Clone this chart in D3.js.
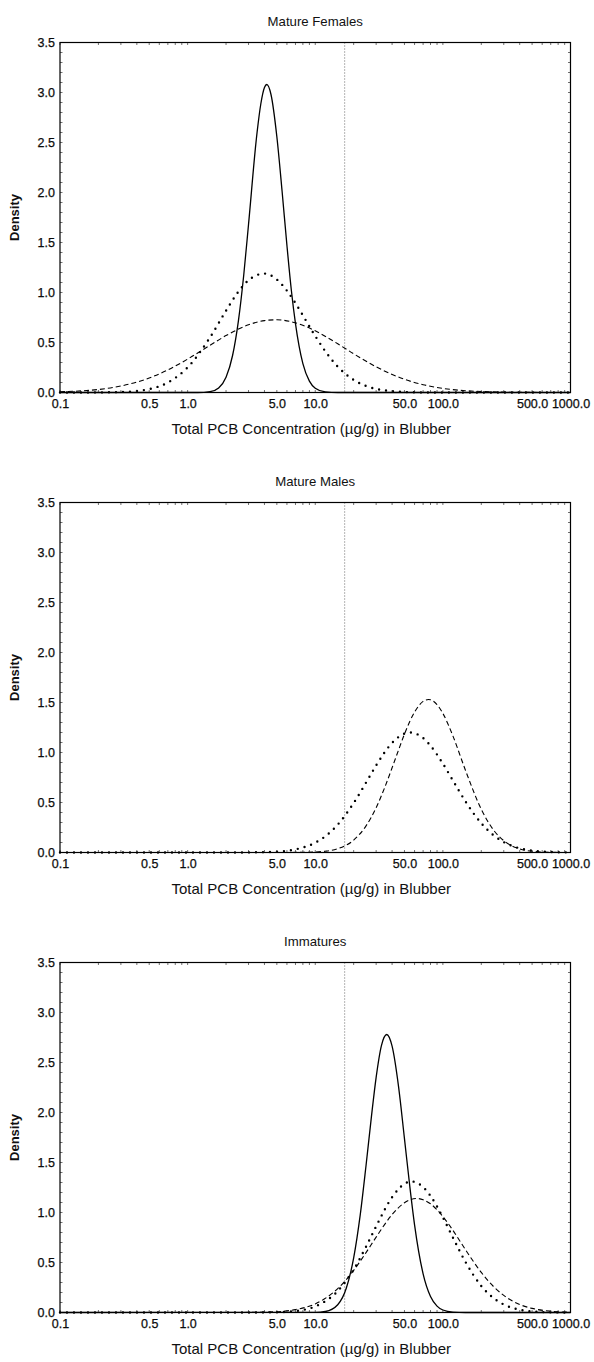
<!DOCTYPE html>
<html><head><meta charset="utf-8">
<script src="https://cdn.jsdelivr.net/npm/d3@7/dist/d3.min.js"></script>
<style>
html,body{margin:0;padding:0;background:#fff;}
text{font-family:"Liberation Sans",Arial,sans-serif;fill:#111;}
</style></head><body>
<svg id="chart" width="594" height="1362"></svg>
<script>
// ---- data ----
const panelTitles = ["Mature Females", "Mature Males", "Immatures"];
const xTickValues = [0.1, 0.5, 1, 5, 10, 50, 100, 500, 1000];
const xTickLabels = ["0.1", "0.5", "1.0", "5.0", "10.0", "50.0", "100.0", "500.0", "1000.0"];
const yTickValues = [0, 0.5, 1, 1.5, 2, 2.5, 3, 3.5];
const yTickLabels = ["0.0", "0.5", "1.0", "1.5", "2.0", "2.5", "3.0", "3.5"];
const thresholdValue = 17;
const xAxisTitle = "Total PCB Concentration (\u00b5g/g) in Blubber";
const yAxisTitle = "Density";

// [concentration, density]
const femalesSolid = [[0.1,0],[1.2,0],[1.5,0.009],[1.75,0.046],[2,0.152],[2.25,0.37],[2.5,0.717],[2.75,1.17],[3,1.68],[3.5,2.60],[3.75,2.89],[4,3.05],[4.17,3.08],[4.5,2.98],[5,2.56],[5.5,2.01],[6,1.47],[6.5,1.02],[7,0.689],[8,0.288],[9,0.114],[10,0.043],[12,0.006],[15,0],[1000,0]];
const femalesDotted = [[0.1,0],[0.2,0.001],[0.3,0.005],[0.4,0.015],[0.5,0.034],[0.7,0.100],[1,0.251],[1.5,0.552],[2,0.818],[2.5,1.008],[3,1.123],[4,1.189],[5,1.130],[6,1.018],[7,0.893],[8,0.771],[10,0.565],[12,0.412],[15,0.259],[20,0.126],[25,0.065],[30,0.036],[40,0.013],[50,0.005],[70,0.001],[100,0],[1000,0]];
const femalesDashed = [[0.1,0.007],[0.15,0.017],[0.2,0.030],[0.3,0.065],[0.5,0.145],[0.7,0.226],[1,0.334],[1.5,0.473],[2,0.569],[3,0.677],[4,0.719],[5,0.727],[7,0.697],[10,0.617],[15,0.487],[20,0.387],[30,0.257],[50,0.132],[70,0.078],[100,0.041],[150,0.018],[200,0.010],[300,0.004],[500,0.001],[1000,0]];
const malesDotted = [[0.1,0],[2,0],[3,0.001],[5,0.009],[7,0.031],[10,0.098],[12,0.162],[15,0.279],[20,0.495],[25,0.699],[30,0.871],[40,1.096],[50,1.189],[55,1.20],[60,1.193],[70,1.145],[80,1.068],[100,0.889],[120,0.719],[150,0.513],[200,0.292],[250,0.171],[300,0.104],[400,0.042],[500,0.019],[700,0.005],[1000,0.001]];
const malesDashed = [[0.1,0],[5,0],[7,0.001],[10,0.005],[12,0.013],[15,0.038],[20,0.124],[25,0.266],[30,0.448],[35,0.649],[40,0.847],[45,1.027],[50,1.184],[60,1.404],[70,1.511],[77,1.53],[80,1.527],[90,1.479],[100,1.391],[120,1.164],[150,0.825],[200,0.432],[250,0.223],[300,0.118],[400,0.036],[500,0.012],[700,0.002],[1000,0]];
const immSolid = [[0.1,0],[10,0.001],[12,0.010],[15,0.078],[17.5,0.242],[20,0.546],[22.5,0.973],[25,1.470],[27.5,1.949],[30,2.352],[33,2.669],[36.3,2.78],[40,2.663],[45,2.254],[50,1.739],[55,1.267],[60,0.877],[70,0.387],[80,0.160],[90,0.064],[100,0.025],[120,0.004],[150,0],[1000,0]];
const immDotted = [[0.1,0],[3,0],[5,0.003],[7,0.015],[10,0.061],[15,0.215],[20,0.430],[25,0.658],[30,0.862],[40,1.153],[50,1.287],[57,1.31],[70,1.255],[80,1.166],[100,0.951],[120,0.748],[150,0.508],[200,0.265],[250,0.143],[300,0.080],[400,0.028],[500,0.011],[700,0.002],[1000,0]];
const immDashed = [[0.1,0],[2,0],[3,0.001],[5,0.008],[7,0.029],[10,0.086],[15,0.239],[20,0.421],[25,0.599],[30,0.754],[40,0.979],[50,1.098],[62,1.14],[70,1.128],[80,1.087],[100,0.960],[120,0.821],[150,0.630],[200,0.401],[250,0.258],[300,0.171],[400,0.080],[500,0.041],[700,0.013],[1000,0.003]];

// ---- layout ----
const styles = {
  solid:  {width: 1.3, dash: null, cap: "butt"},
  dotted: {width: 2.4, dash: "0,7", cap: "round"},
  dashed: {width: 1.1, dash: "5,3", cap: "butt"}
};
const panels = [
  {title: panelTitles[0], series: [[femalesDashed,"dashed"],[femalesDotted,"dotted"],[femalesSolid,"solid"]]},
  {title: panelTitles[1], series: [[malesDashed,"dashed"],[malesDotted,"dotted"]]},
  {title: panelTitles[2], series: [[immDashed,"dashed"],[immDotted,"dotted"],[immSolid,"solid"]]}
];
const left = 60, right = 570.5, plotH = 350;
const tops = [42.5, 502.5, 962.5];

const svg = d3.select("#chart");

panels.forEach((p, i) => {
  const top = tops[i], bottom = top + plotH;
  const x = d3.scaleLog().domain([0.1, 1000]).range([left, right]);
  const y = d3.scaleLinear().domain([0, 3.5]).range([bottom, top]);
  const g = svg.append("g");

  // title
  g.append("text").attr("x", (left + right) / 2).attr("y", top - 17)
    .attr("text-anchor", "middle").attr("font-size", 13.2).text(p.title);

  // threshold line
  g.append("line").attr("x1", x(thresholdValue)).attr("x2", x(thresholdValue))
    .attr("y1", top).attr("y2", bottom)
    .attr("stroke", "#444").attr("stroke-width", 0.8).attr("stroke-dasharray", "1,2");

  // curves
  const line = d3.line().x(d => x(d[0])).y(d => y(d[1])).curve(d3.curveMonotoneX);
  p.series.forEach(([data, st]) => {
    const s = styles[st];
    g.append("path").datum(data).attr("d", line)
      .attr("fill", "none").attr("stroke", "#000")
      .attr("stroke-width", s.width)
      .attr("stroke-dasharray", s.dash)
      .attr("stroke-linecap", s.cap);
  });

  // y axis (left)
  const yMinor = d3.range(0, 3.5001, 0.1);
  const yAxis = d3.axisLeft(y).tickValues(yTickValues)
    .tickFormat((d, k) => yTickLabels[k]).tickSize(0).tickPadding(5);
  const ya = g.append("g").attr("transform", `translate(${left},0)`).call(yAxis);
  ya.select(".domain").remove();
  ya.selectAll("text").attr("font-size", 12.5).attr("font-family", "Liberation Sans, Arial, sans-serif")
    .attr("fill", "#000").attr("stroke", "#000").attr("stroke-width", 0.25);

  g.selectAll(".ym").data(yMinor).join("line")
    .attr("x1", left).attr("x2", left + 2.5).attr("y1", d => y(d)).attr("y2", d => y(d))
    .attr("stroke", "#333").attr("stroke-width", 0.7);
  g.selectAll(".ymr").data(yMinor).join("line")
    .attr("x1", right).attr("x2", right - 2.5).attr("y1", d => y(d)).attr("y2", d => y(d))
    .attr("stroke", "#333").attr("stroke-width", 0.7);

  // x axis (bottom)
  const xAxis = d3.axisBottom(x).tickValues(xTickValues)
    .tickFormat((d, k) => xTickLabels[k]).tickSize(0).tickPadding(7);
  const xa = g.append("g").attr("transform", `translate(0,${bottom})`).call(xAxis);
  xa.select(".domain").remove();
  xa.selectAll("text").attr("font-size", 12.5).attr("font-family", "Liberation Sans, Arial, sans-serif")
    .attr("fill", "#000").attr("stroke", "#000").attr("stroke-width", 0.25);

  const xMinor = x.ticks();
  g.selectAll(".xm").data(xMinor).join("line")
    .attr("x1", d => x(d)).attr("x2", d => x(d)).attr("y1", bottom).attr("y2", bottom - 2.5)
    .attr("stroke", "#333").attr("stroke-width", 0.7);
  g.selectAll(".xmt").data(xMinor).join("line")
    .attr("x1", d => x(d)).attr("x2", d => x(d)).attr("y1", top).attr("y2", top + 2.5)
    .attr("stroke", "#333").attr("stroke-width", 0.7);

  // frame
  g.append("rect").attr("x", left).attr("y", top).attr("width", right - left).attr("height", plotH)
    .attr("fill", "none").attr("stroke", "#000").attr("stroke-width", 1.2);

  // axis titles
  g.append("text").attr("x", (left + right) / 2 - 4).attr("y", bottom + 41)
    .attr("text-anchor", "middle").attr("font-size", 15).text(xAxisTitle);
  g.append("text").attr("transform", `translate(19,${(top + bottom) / 2}) rotate(-90)`)
    .attr("text-anchor", "middle").attr("font-size", 13).attr("font-weight", "bold").text(yAxisTitle);
});
</script>
</body></html>
